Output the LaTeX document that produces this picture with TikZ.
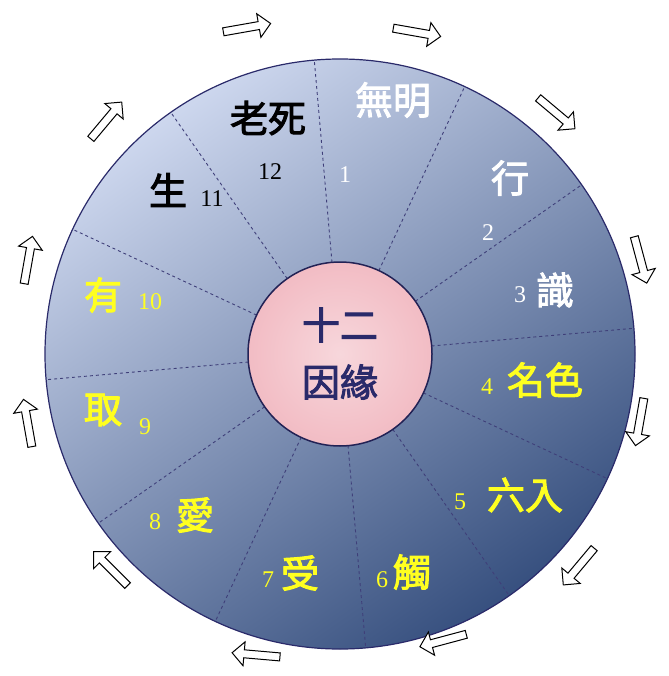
\documentclass[tikz,border=0pt]{standalone}
\usepackage{fontspec}
\setmainfont{Liberation Serif}
\newfontfamily\cjk[FakeBold=2.5]{Noto Sans CJK TC}
\usetikzlibrary{shapes.arrows,calc}
\definecolor{ylw}{HTML}{FFFF20}
\definecolor{navy}{HTML}{2A2A6A}
\definecolor{light}{HTML}{CDD7EE}
\definecolor{dark}{HTML}{37507F}
\definecolor{pinkc}{HTML}{F2BCC4}
\tikzset{
 big/.style={font=\cjk\fontsize{38}{40}\selectfont},
 num/.style={font=\fontsize{24}{26}\selectfont},
 blk/.style={text=black}, wht/.style={text=white}, yl/.style={text=ylw},
 cw/.style={single arrow, draw=black, fill=white, line width=1pt, minimum height=48pt, minimum width=24pt, single arrow head extend=5pt, inner sep=2pt, rotate=#1},
 sep/.style={dashed, draw=navy!90, line width=0.9pt}
}
\begin{document}
\begin{tikzpicture}[x=1pt,y=-1pt]
\useasboundingbox (0,0) rectangle (668,676);
\coordinate (c) at (340,354);
\shade[top color=light, bottom color=dark, shading angle=35, draw=navy, line width=1.2pt] (c) circle (295);
\foreach \a in {95,65,35,5,-25,-55,-85,-115,-145,-175,155,125}
  \draw[sep] ($(c)+(-\a:92)$) -- ($(c)+(-\a:294)$);
\shade[inner color=pinkc!60, outer color=pinkc, draw=navy!80!black, line width=1.5pt] (c) circle (92);
\node[big, text=navy] (t1) at (340,325) {十二};
\node[big, text=navy] (t2) at (340,382) {因緣};
\node[big,blk] (s12) at (268,118) {老死};
\node[num,blk] (n12) at (270,172) {12};
\node[big,wht] (s1) at (393,100) {無明};
\node[num,wht] (n1) at (345,175) {1};
\node[big,wht] (s2) at (510,178) {行};
\node[num,wht] (n2) at (488,233) {2};
\node[num,wht] (n3) at (520,295) {3};
\node[big,wht] (s3) at (555,290) {識};
\node[num,yl] (n4) at (487,387) {4};
\node[big,yl] (s4) at (545,380) {名色};
\node[num,yl] (n5) at (460,502) {5};
\node[big,yl] (s5) at (525,495) {六入};
\node[num,yl] (n6) at (382,580) {6};
\node[big,yl] (s6) at (412,572) {觸};
\node[num,yl] (n7) at (268,580) {7};
\node[big,yl] (s7) at (300,573) {受};
\node[num,yl] (n8) at (155,522) {8};
\node[big,yl] (s8) at (195,515) {愛};
\node[big,yl] (s9) at (103,410) {取};
\node[num,yl] (n9) at (145,427) {9};
\node[big,yl] (s10) at (103,295) {有};
\node[num,yl] (n10) at (150,302) {10};
\node[big,blk] (s11) at (168,190) {生};
\node[num,blk] (n11) at (212,199) {11};
\node[cw=10] (a1) at (245,28) {};
\node[cw=-10] (a2) at (415,32) {};
\node[cw=-40] (a3) at (555,112) {};
\node[cw=-75] (a4) at (640,258) {};
\node[cw=-100] (a5) at (640,420) {};
\node[cw=-130] (a6) at (580,565) {};
\node[cw=-165] (a7) at (445,640) {};
\node[cw=175] (a8) at (258,655) {};
\node[cw=135] (a9) at (112,570) {};
\node[cw=100] (a10) at (28,425) {};
\node[cw=80] (a11) at (28,262) {};
\node[cw=50] (a12) at (105,122) {};
\end{tikzpicture}
\end{document}
